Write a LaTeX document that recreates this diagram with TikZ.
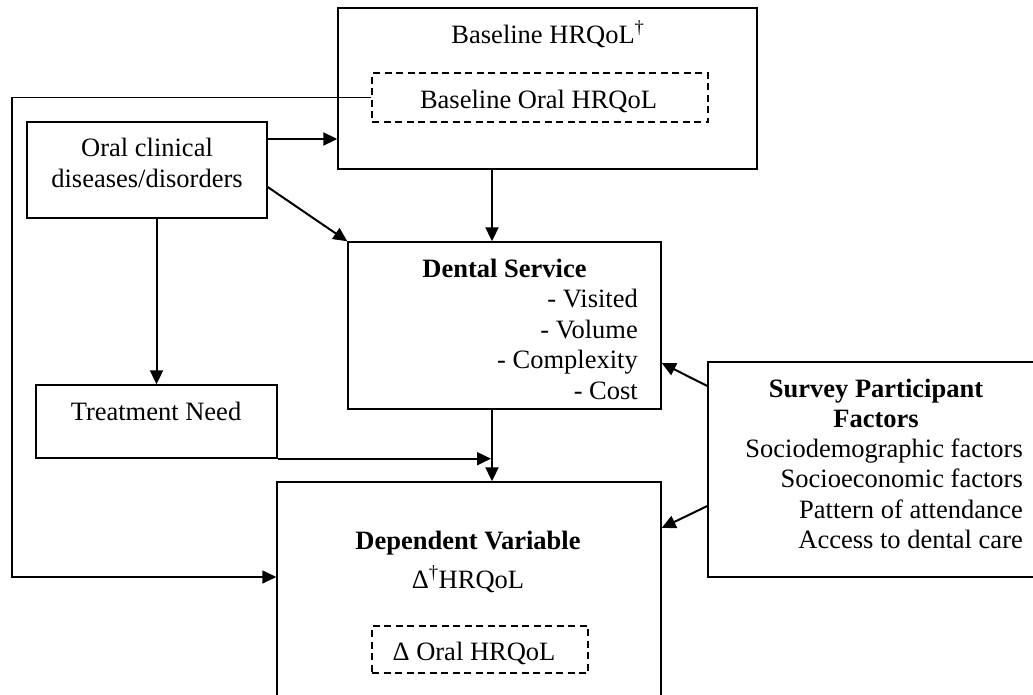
\documentclass[tikz,border=0pt]{standalone}
\usepackage{fontspec}
\setmainfont{Liberation Serif}
\usetikzlibrary{arrows.meta}
\begin{document}
\begin{tikzpicture}[x=1pt,y=-1pt,
  box/.style={draw, line width=1.4pt, rectangle, inner sep=0pt},
  dbox/.style={draw, line width=1.4pt, dash pattern=on 7pt off 4.5pt, rectangle, inner sep=0pt},
  arr/.style={-{Triangle[length=14pt,width=13pt]}, line width=2pt},
  lbl/.style={inner sep=0pt, anchor=base, font=\fontsize{26.5}{30.5}\selectfont},
  rlbl/.style={lbl, anchor=base east},
  bold/.style={font=\fontsize{26.5}{30.5}\selectfont\bfseries}]

% canvas
\clip (0,0) rectangle (1033,694);
\fill[white] (0,0) rectangle (1033,694);

% boxes
\node[box, minimum width=419pt, minimum height=161pt] (baseBox) at (547.5,88.5) {};
\node[dbox, minimum width=336pt, minimum height=49pt] (baseOral) at (540,97.5) {};
\node[box, minimum width=240pt, minimum height=96pt] (oralBox) at (147,170) {};
\node[box, minimum width=313pt, minimum height=167pt] (dentBox) at (504.5,325.5) {};
\node[box, minimum width=241pt, minimum height=73pt] (needBox) at (156.5,421.5) {};
\node[box, minimum width=384pt, minimum height=260pt] (depBox) at (469,612) {};
\node[dbox, minimum width=216pt, minimum height=47pt] (depOral) at (480,649.5) {};
\node[box, minimum width=352pt, minimum height=215pt] (survBox) at (884,469.5) {};

% texts
\node[lbl] (tBase) at (548,43) {Baseline HRQoL\textsuperscript{†}};
\node[lbl] (tBaseOral) at (538.5,108) {Baseline Oral HRQoL};
\node[lbl] (tOral1) at (147,156) {Oral clinical};
\node[lbl] (tOral2) at (147,187) {diseases/disorders};
\node[lbl] (tNeed) at (156,420) {Treatment Need};
\node[lbl, bold] (tDent) at (504.5,277) {Dental Service};
\node[rlbl] (tVis) at (638,307.5) {- Visited};
\node[rlbl] (tVol) at (638,338) {- Volume};
\node[rlbl] (tCpx) at (638,368.5) {- Complexity};
\node[rlbl] (tCost) at (638,399) {- Cost};
\node[lbl, bold] (tSurv1) at (876,397) {Survey Participant};
\node[lbl, bold] (tSurv2) at (876,427) {Factors};
\node[rlbl] (tSd) at (1023,457.5) {Sociodemographic factors};
\node[rlbl] (tSe) at (1023,487.5) {Socioeconomic factors};
\node[rlbl] (tPa) at (1023,518) {Pattern of attendance};
\node[rlbl] (tAc) at (1023,548) {Access to dental care};
\node[lbl, bold] (tDep) at (468,549) {Dependent Variable};
\node[lbl] (tDelta) at (468,588) {Δ\textsuperscript{†}HRQoL};
\node[lbl] (tDeltaOral) at (474,660) {Δ Oral HRQoL};

% helper coordinates for connector positions
\coordinate (yA) at (0,139);
\coordinate (yB) at (0,187);
\coordinate (xC) at (492,0);
\coordinate (needEnd) at (491,0);
\coordinate (loopBot) at (12,577);
\coordinate (s1) at (0,386);
\coordinate (s2) at (0,363);
\coordinate (s3) at (0,506);
\coordinate (s4) at (0,528);

% connectors
\draw[arr] (oralBox.east |- yA) -- (baseBox.west |- yA);
\draw[arr] (oralBox.east |- yB) -- (dentBox.north west);
\draw[arr] (needBox.north |- oralBox.south) -- (needBox.north);
\draw[arr] (baseBox.south -| xC) -- (dentBox.north -| xC);
\draw[arr] (dentBox.south -| xC) -- (depBox.north -| xC);
\draw[arr] (needBox.south east) -- (needBox.south east -| needEnd);
\draw[arr] (survBox.west |- s1) -- (dentBox.east |- s2);
\draw[arr] (survBox.west |- s3) -- (depBox.east |- s4);
\draw[arr, line width=1.5pt] (baseOral.west) -| (loopBot) -- (depBox.west |- loopBot);
\end{tikzpicture}
\end{document}
